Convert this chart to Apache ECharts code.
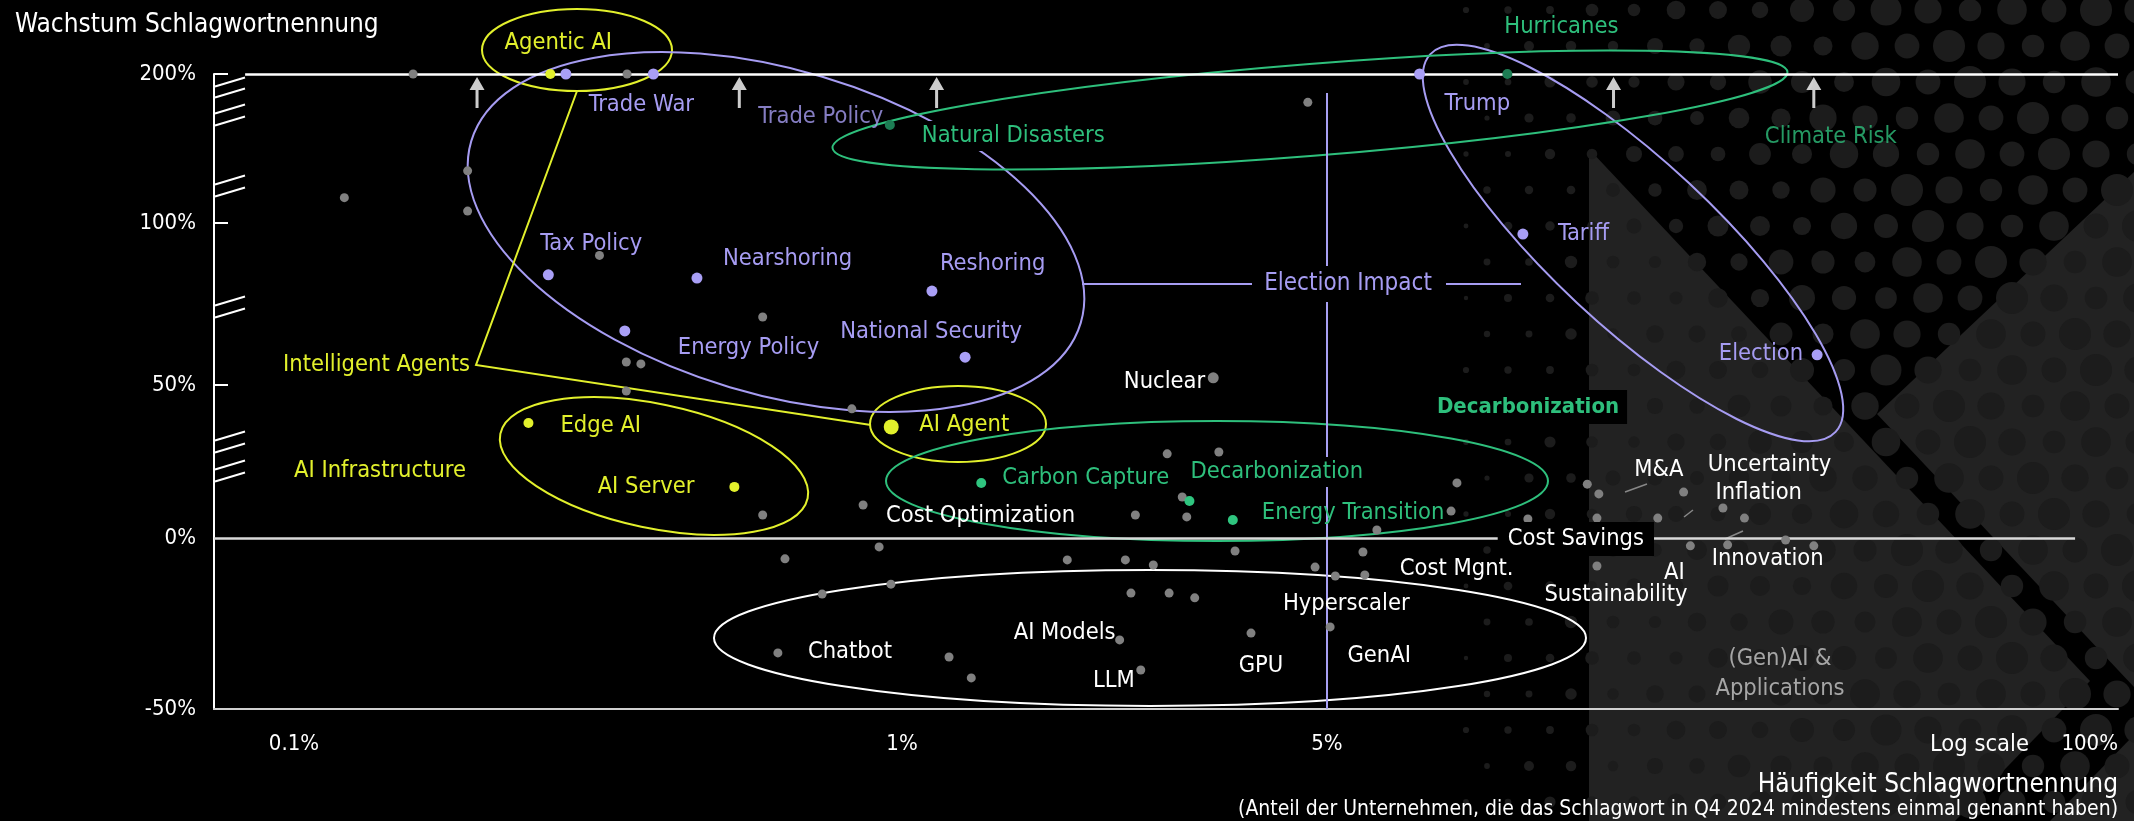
<!DOCTYPE html>
<html><head><meta charset="utf-8">
<script src="https://cdn.jsdelivr.net/npm/echarts@6/dist/echarts.min.js"></script>
<style>html,body{margin:0;padding:0;background:#000}#c{width:2134px;height:821px}</style>
</head><body><div id="c"></div>
<script>
// ---------------- DATA ----------------
// x = Häufigkeit (share of companies, %, log scale); y = Wachstum (%), values >200 capped at 200
const electionNames  = ['', 'Trade War', 'Trump', 'Tax Policy', 'Nearshoring', 'Reshoring', 'Energy Policy', 'National Security', 'Tariff', 'Election'];
const electionFreq   = [0.28, 0.39, 7.1, 0.262, 0.46, 1.12, 0.35, 1.27, 10.5, 32];
const electionGrowth = [200, 200, 200, 84, 83, 79, 66.7, 58.6, 96.6, 59.3];

const aiNames  = ['Agentic AI', 'Edge AI', 'AI Server', 'AI Agent'];
const aiFreq   = [0.264, 0.243, 0.53, 0.96];
const aiGrowth = [200, 37.6, 16.7, 36.3];

const climateNames  = ['Hurricanes', 'Natural Disasters', 'Carbon Capture', 'Decarbonization', 'Energy Transition'];
const climateFreq   = [9.9, 0.955, 1.35, 2.97, 3.5];
const climateGrowth = [200, 165.8, 18, 12.1, 5.9];

// keywords beyond the 200% cap (shown as arrows)
const offScaleNames = ['', 'Trade Policy', '', '', 'Climate Risk'];
const offScaleFreq  = [0.2, 0.54, 1.14, 14.8, 31.6];

const otherNames = ['', '', '', '', '', '', '', '', '', '', '', '', 'Nuclear', '', '', '', '', '', '', '', '', 'Cost Savings',
  '', 'Cost Optimization', '', '', '', '', '', '', '', '', '', '', '', '', 'Hyperscaler', '', 'Cost Mgnt.',
  'Chatbot', '', '', 'AI Models', 'LLM', 'GPU', 'GenAI',
  '', 'M&A', '', 'Inflation', 'Uncertainty', '', '', 'Sustainability', 'AI', 'Innovation', '', ''];
const otherFreq = [0.157, 0.353, 4.65, 0.193, 0.121, 0.193, 0.318, 0.59, 0.352, 0.372, 0.352, 0.827, 3.25, 2.73, 3.32, 2.89, 2.42, 2.94, 6.04, 8.18, 8.0, 10.7,
  0.59, 0.863, 0.917, 0.642, 0.739, 0.959, 1.87, 2.33, 2.59, 2.38, 2.75, 3.03, 3.53, 4.78, 5.16, 5.73, 5.77,
  0.625, 1.195, 1.30, 2.28, 2.47, 3.75, 5.06,
  13.4, 14.0, 13.9, 17.5, 19.3, 22.4, 24.3, 13.9, 19.8, 22.8, 28.4, 31.6];
const otherGrowth = [200, 200, 181, 135, 117, 108, 90, 71, 57.1, 56.5, 48, 42.2, 52.2, 27.5, 28.1, 13.4, 7.5, 6.9, 2.6, 18, 8.8, 6.2,
  7.5, 10.8, -2.6, -6.1, -16.4, -13.5, -6.4, -6.4, -7.9, -16.1, -16.1, -17.5, -3.8, -8.5, -11.1, -4.1, -10.8,
  -33.6, -34.8, -40.9, -29.8, -38.6, -27.8, -26.0,
  17.6, 14.4, 6.5, 6.5, 15.0, 9.8, 6.5, -8.2, -2.3, -2.0, -0.6, -2.3];

const xTickValues = [0.1, 1, 5, 100];
const yTickValues = [200, 100, 50, 0, -50];

// ---------------- STYLE / LAYOUT ----------------
const FONT = "'DejaVu Sans Condensed', 'DejaVu Sans', sans-serif";
const LBL = 23.5;
const C = { purple: '#a69cf2', purpleDot: '#a99ff6', yellow: '#e2f02c', green: '#2ebf7c', greenDark: '#1d7d54',
            greenDot: '#2fc57f', gray: '#808080', white: '#ffffff', vline: '#a79ff2' };
const X_MIN = 0.07386, X_MAX = 100;
// broken y axis: one band (grid) per segment
const bands = [
  { top: 74,  height: 149, min: 100, max: 200, labels: [200], ticks: [200] },
  { top: 223, height: 162, min: 50,  max: 100, labels: [100], ticks: [100] },
  { top: 385, height: 153, min: 0,   max: 50,  labels: [50],  ticks: [50] },
  { top: 538, height: 171, min: -50, max: 0,   labels: [0, -50], ticks: [] }
];
function bandOf(v) { return v > 100 ? 0 : v > 50 ? 1 : v >= 0 ? 2 : 3; }

// label placement: [dx, dy, align] relative to the point
const labelPlace = {
  'Trade War': [-12, 31, 'center'], 'Trump': [25, 30, 'left'], 'Tax Policy': [-8, -31, 'left'],
  'Nearshoring': [26, -19, 'left'], 'Reshoring': [8, -27, 'left'], 'Energy Policy': [53, 17, 'left'],
  'National Security': [-34, -25, 'center'], 'Tariff': [35, 0, 'left'], 'Election': [-14, -1, 'right'],
  'Agentic AI': [8, -31, 'center'], 'Edge AI': [32, 3, 'left'], 'AI Server': [-40, 0, 'right'], 'AI Agent': [28, -2, 'left'],
  'Hurricanes': [54, -47, 'center'], 'Natural Disasters': [30, 11, 'left'], 'Carbon Capture': [21, -5, 'left'],
  'Decarbonization': [-1, -29, 'left'], 'Energy Transition': [29, -7, 'left'],
  'Trade Policy': [19, 24, 'left'], 'Climate Risk': [17, 44, 'center'],
  'Nuclear': [-8, 4, 'right'], 'Cost Optimization': [23, 11, 'left'], 'Chatbot': [30, -1, 'left'],
  'AI Models': [-4, -7, 'right'], 'LLM': [-6, 11, 'right'], 'GPU': [10, 33, 'center'],
  'Hyperscaler': [11, 28, 'center'], 'GenAI': [49, 29, 'center'], 'Cost Mgnt.': [35, -6, 'left'],
  'Cost Savings': [48, 20, 'center'], 'AI': [-16, 27, 'center'], 'Sustainability': [19, 29, 'center'],
  'M&A': [60, -24, 'center'], 'Inflation': [101, -25, 'center'], 'Uncertainty': [86, -27, 'center'],
  'Innovation': [40, 14, 'center']
};
const labelExtra = {
  'Decarbonization': { backgroundColor: '#000', padding: [3, 2] },
  'Natural Disasters': { backgroundColor: '#000', padding: [3, 2] },
  'Cost Savings': { backgroundColor: '#000', padding: [5, 10] },
  'Trade Policy': { color: C.purple }, 'Climate Risk': { color: C.green }
};

function pointSeries(names, xs, ys, st) {
  const out = [];
  for (let b = 0; b < bands.length; b++) {
    const data = [];
    names.forEach((n, i) => {
      if (bandOf(ys[i]) !== b) return;
      const item = { name: n, value: [xs[i], ys[i]] };
      const p = labelPlace[n];
      if (n && p) item.label = Object.assign({ show: true, offset: [p[0], p[1]], align: p[2] }, labelExtra[n] || {});
      if (st.itemColor && st.itemColor[n]) item.itemStyle = { color: st.itemColor[n] };
      if (st.itemSize && st.itemSize[n]) item.symbolSize = st.itemSize[n];
      data.push(item);
    });
    if (!data.length) continue;
    out.push({
      type: 'scatter', xAxisIndex: b, yAxisIndex: b, data, symbolSize: st.size,
      itemStyle: { color: st.color, opacity: 1 }, clip: false, silent: true, z: 3,
      label: { show: false, position: 'inside', color: st.labelColor, fontSize: LBL, fontFamily: FONT,
               verticalAlign: 'middle', formatter: '{b}' },
      emphasis: { disabled: true }
    });
  }
  return out;
}

const series = [];
series.push(...pointSeries(otherNames, otherFreq, otherGrowth, { color: C.gray, size: 9, labelColor: C.white, itemSize: { 'Nuclear': 11 } }));
series.push(...pointSeries(electionNames, electionFreq, electionGrowth, { color: C.purpleDot, size: 11, labelColor: C.purple }));
series.push(...pointSeries(aiNames, aiFreq, aiGrowth, { color: C.yellow, size: 10, labelColor: C.yellow, itemSize: { 'AI Agent': 15 } }));
series.push(...pointSeries(climateNames, climateFreq, climateGrowth, { color: C.greenDot, size: 10, labelColor: C.green,
  itemColor: { 'Hurricanes': C.greenDark, 'Natural Disasters': C.greenDark } }));

// off-scale arrows
const arrowPath = 'path://M7.5,0 L15,13 L9,13 L9,31 L6,31 L6,13 L0,13 Z';
series.push({
  type: 'scatter', xAxisIndex: 0, yAxisIndex: 0, symbol: arrowPath, symbolSize: [15, 31], symbolOffset: [0, 18.5],
  itemStyle: { color: C.white }, clip: false, silent: true, z: 3,
  label: { show: false, position: 'inside', fontSize: LBL, fontFamily: FONT, verticalAlign: 'middle', formatter: '{b}' },
  data: offScaleFreq.map((x, i) => {
    const n = offScaleNames[i], item = { name: n, value: [x, 200] }, p = labelPlace[n];
    if (n && p) item.label = Object.assign({ show: true, offset: [p[0], p[1]], align: p[2] }, labelExtra[n] || {});
    return item;
  })
});

// reference lines (cap line, zero line, 5% marker)
const refLines = [
  [[[0.0831, 200], [X_MAX, 200], C.white, 2.5], [[5, 187.2], [5, 100], C.vline, 2]],
  [[[5, 100], [5, 50], C.vline, 2]],
  [[[5, 50], [5, 0], C.vline, 2]],
  [[[5, 0], [5, -50], C.vline, 2], [[X_MIN, 0], [85, 0], '#d9d9d9', 2.5]]
];
refLines.forEach((lines, b) => {
  series.push({
    type: 'scatter', xAxisIndex: b, yAxisIndex: b, data: [], silent: true,
    markLine: { silent: true, symbol: 'none', z: 1, animation: false, label: { show: false },
      data: lines.map(l => [{ coord: l[0], lineStyle: { color: l[2], width: l[3], type: 'solid' } }, { coord: l[1] }]) }
  });
});

// ---------------- ANNOTATIONS ----------------
const graphics = [];
// background decoration
graphics.push({ type: 'polygon', silent: true, z: -10, shape: { points: [[1589, 149], [2090, 681], [1955, 821], [1589, 821]] }, style: { fill: '#222222' } });
graphics.push({ type: 'polygon', silent: true, z: -10, shape: { points: [[1877, 414], [2134, 172], [2134, 687]] }, style: { fill: '#222222' } });
graphics.push({ type: 'polygon', silent: true, z: -10, shape: { points: [[2134, 735], [2134, 821], [2050, 821]] }, style: { fill: '#222222' } });
for (let r = 0; r < 24; r++) {
  const y = 10 + r * 36;
  for (let c = 0; c < 22; c++) {
    const x = 1340 + c * 42 + (r % 2) * 21;
    if (x > 2150) break;
    let rad = Math.min(16, (x - 1360) / 34);
    if (rad < 3) continue;
    rad *= 0.7 + 0.3 * (((r * 7 + c * 3) % 5) / 4);
    graphics.push({ type: 'circle', silent: true, z: -9, shape: { cx: x, cy: y, r: rad }, style: { fill: '#1c1c1c' } });
  }
}
// axis break hatches
[82, 93, 109, 121, 180, 192, 301, 313, 436, 448, 465, 477].forEach(yc => {
  graphics.push({ type: 'line', silent: true, z: 5, shape: { x1: 215, y1: yc + 4.5, x2: 245, y2: yc - 4.5 }, style: { stroke: '#fff', lineWidth: 2 } });
});
// group ellipses
const deg = Math.PI / 180;
[
  [577, 50, 95, 41, 0, C.yellow], [958, 424, 88, 38, 0, C.yellow], [654, 466, 157, 62, -11.85, C.yellow],
  [776, 232, 318, 162, -16.6, C.purple], [1633, 243, 277, 82, -43, C.purple],
  [1310, 110, 479, 46, 4.55, C.green], [1217, 481, 331, 60, 0, C.green], [1150, 638, 436, 68, 0, C.white]
].forEach(e => {
  graphics.push({ type: 'ellipse', silent: true, z: 1, x: e[0], y: e[1], rotation: e[4] * deg,
    shape: { cx: 0, cy: 0, rx: e[2], ry: e[3] }, style: { fill: 'none', stroke: e[5], lineWidth: 2 } });
});
// connector lines
graphics.push({ type: 'polyline', silent: true, z: 1, shape: { points: [[577, 91], [476, 365], [871, 425]] }, style: { stroke: C.yellow, lineWidth: 2, fill: null } });
graphics.push({ type: 'line', silent: true, z: 1, shape: { x1: 1082, y1: 284, x2: 1252, y2: 284 }, style: { stroke: C.purple, lineWidth: 2 } });
graphics.push({ type: 'line', silent: true, z: 1, shape: { x1: 1446, y1: 284, x2: 1521, y2: 284 }, style: { stroke: C.purple, lineWidth: 2 } });
[[1625, 492, 1647, 484], [1684, 517, 1693, 510], [1725, 539, 1743, 531]].forEach(l => {
  graphics.push({ type: 'line', silent: true, z: 1, shape: { x1: l[0], y1: l[1], x2: l[2], y2: l[3] }, style: { stroke: '#888', lineWidth: 1.5 } });
});
// free texts
function txt(text, x, y, align, color, size, extra) {
  graphics.push({ type: 'text', silent: true, z: 10, x, y, style: Object.assign({ text, fill: color, fontSize: size, fontFamily: FONT,
    align, textAlign: align, verticalAlign: 'middle', textVerticalAlign: 'middle' }, extra || {}) });
}
txt('Wachstum Schlagwortnennung', 15, 25, 'left', C.white, 26);
txt('Häufigkeit Schlagwortnennung', 2118, 785, 'right', C.white, 26);
txt('(Anteil der Unternehmen, die das Schlagwort in Q4 2024 mindestens einmal genannt haben)', 2118, 810, 'right', C.white, 21);
txt('Log scale', 1930, 745, 'left', C.white, 23.5);
txt('Intelligent Agents', 470, 365, 'right', C.yellow, LBL);
txt('AI Infrastructure', 380, 471, 'center', C.yellow, LBL);
txt('Election Impact', 1348, 284, 'center', C.purple, 24, { backgroundColor: '#000', padding: [6, 4] });
txt('Decarbonization', 1528, 407, 'center', C.green, 22, { fontWeight: 'bold', backgroundColor: '#000', padding: [6, 8] });
txt('(Gen)AI &', 1780, 659, 'center', '#a6a6a6', LBL);
txt('Applications', 1780, 689, 'center', '#a6a6a6', LBL);

// ---------------- OPTION ----------------
const option = {
  backgroundColor: '#000',
  animation: false,
  textStyle: { fontFamily: FONT },
  grid: bands.map(b => ({ left: 214, right: 16, top: b.top, height: b.height, show: false })),
  xAxis: bands.map((b, i) => ({
    type: 'log', logBase: 10, gridIndex: i, min: X_MIN, max: X_MAX,
    axisLine: { show: i === 3, onZero: false, lineStyle: { color: '#d0d0d0', width: 2 } },
    axisTick: { show: false }, splitLine: { show: false }, minorSplitLine: { show: false },
    axisLabel: { show: i === 3, customValues: xTickValues, color: C.white, fontSize: 22, fontFamily: FONT, margin: 24,
      alignMaxLabel: 'right', formatter: v => (Math.round(v * 100) / 100) + '%' }
  })),
  yAxis: bands.map((b, i) => ({
    type: 'value', gridIndex: i, min: b.min, max: b.max,
    axisLine: { show: true, onZero: false, lineStyle: { color: C.white, width: 2 } },
    axisTick: { show: b.ticks.length > 0, inside: true, length: 14, customValues: b.ticks, lineStyle: { color: C.white, width: 2 } },
    axisLabel: { show: true, customValues: yTickValues.filter(v => b.labels.includes(v)), color: C.white, fontSize: 22, fontFamily: FONT,
      margin: 18, formatter: v => v + '%' },
    splitLine: { show: false }
  })),
  graphic: { elements: graphics },
  series
};
const chart = echarts.init(document.getElementById('c'), null, { renderer: 'canvas' });
chart.setOption(option);
</script></body></html>
